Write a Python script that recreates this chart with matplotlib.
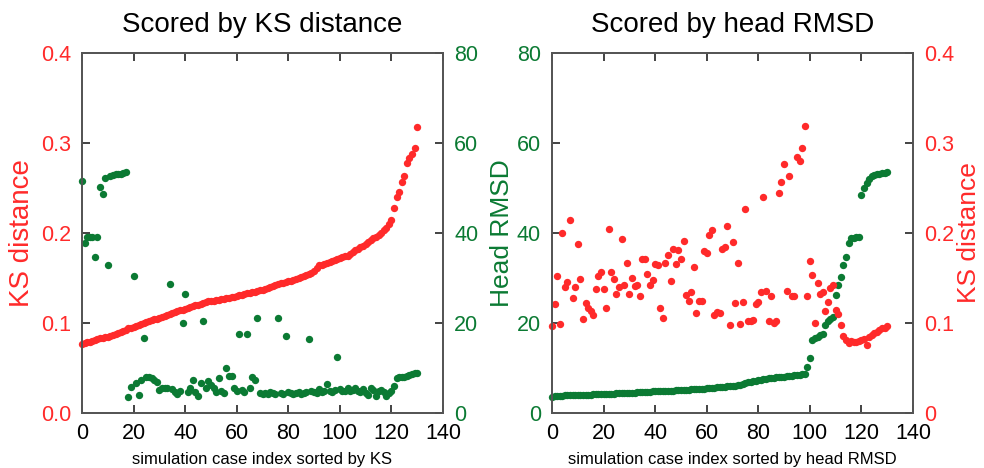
import matplotlib
matplotlib.use("Agg")
import matplotlib.pyplot as plt
import numpy as np

plt.rcParams['font.family'] = ['Liberation Sans', 'DejaVu Sans']

RED = '#ff2a2a'
GREEN = '#0b7a33'
SPINE = '#555555'
NARROW = ['Liberation Sans Narrow', 'Liberation Sans', 'DejaVu Sans']

# ---- data ----
# left panel: cases sorted by KS distance
ks_sorted_by_ks = [
    0.077, 0.078, 0.079, 0.079, 0.080, 0.081, 0.082, 0.083, 0.083, 0.084,
    0.085, 0.086, 0.087, 0.088, 0.089, 0.090, 0.091, 0.092, 0.094, 0.095,
    0.096, 0.097, 0.098, 0.099, 0.100, 0.101, 0.102, 0.103, 0.104, 0.105,
    0.106, 0.107, 0.108, 0.109, 0.110, 0.111, 0.112, 0.113, 0.114, 0.115,
    0.116, 0.117, 0.118, 0.119, 0.120, 0.120, 0.121, 0.122, 0.123, 0.124,
    0.124, 0.125, 0.126, 0.126, 0.127, 0.127, 0.128, 0.128, 0.129, 0.129,
    0.130, 0.131, 0.131, 0.132, 0.133, 0.133, 0.134, 0.135, 0.136, 0.137,
    0.137, 0.138, 0.139, 0.140, 0.141, 0.142, 0.143, 0.144, 0.145, 0.146,
    0.147, 0.147, 0.148, 0.149, 0.150, 0.151, 0.152, 0.153, 0.154, 0.156,
    0.158, 0.161, 0.164, 0.165, 0.166, 0.167, 0.168, 0.169, 0.170, 0.171,
    0.172, 0.173, 0.174, 0.175, 0.177, 0.179, 0.181, 0.182, 0.184, 0.186,
    0.188, 0.190, 0.192, 0.194, 0.196, 0.198, 0.200, 0.203, 0.206, 0.210,
    0.214, 0.228, 0.240, 0.246, 0.257, 0.263, 0.278, 0.283, 0.288, 0.294,
    0.318,
]
rmsd_sorted_by_ks = [
    51.5, 37.8, 39.0, 39.2, 39.2, 34.7, 39.1, 50.2, 48.7, 52.2,
    33.0, 52.6, 52.8, 53.0, 53.1, 53.2, 53.4, 53.5, 3.6, 5.8,
    30.4, 6.6, 3.9, 7.3, 16.7, 7.9, 8.1, 7.7, 7.3, 7.0,
    5.1, 5.5, 5.5, 5.5, 28.7, 5.4, 4.7, 4.3, 5.0, 20.0,
    26.4, 4.7, 5.5, 7.3, 4.7, 3.8, 6.6, 20.4, 5.6, 7.1,
    6.2, 5.5, 4.7, 7.7, 5.0, 4.4, 10.1, 8.3, 8.3, 5.5,
    4.9, 17.6, 5.2, 4.6, 17.6, 5.5, 7.9, 7.3, 21.1, 4.4,
    4.2, 4.5, 4.3, 4.6, 4.4, 4.2, 21.1, 4.5, 4.3, 17.1,
    4.6, 4.4, 4.2, 4.5, 4.7, 4.3, 4.4, 4.6, 16.4, 5.0,
    4.7, 4.5, 5.4, 4.6, 4.9, 6.4, 5.0, 4.6, 5.2, 12.4,
    5.3, 4.8, 5.0, 5.5, 4.9, 5.2, 5.6, 5.0, 4.7, 5.3,
    4.4, 3.9, 5.5, 5.1, 3.8, 4.8, 5.2, 4.6, 3.8, 4.4,
    5.0, 6.0, 7.7, 7.9, 8.0, 8.1, 8.3, 8.5, 8.6, 8.8,
    8.9,
]

# right panel: cases sorted by head RMSD
rmsd_sorted_by_rmsd = [
    3.6, 3.7, 3.7, 3.8, 3.8, 3.9, 3.9, 3.9, 4.0, 4.0,
    4.0, 4.0, 4.1, 4.1, 4.1, 4.1, 4.2, 4.2, 4.2, 4.2,
    4.2, 4.3, 4.3, 4.3, 4.3, 4.4, 4.4, 4.4, 4.4, 4.5,
    4.5, 4.5, 4.5, 4.6, 4.6, 4.6, 4.7, 4.7, 4.7, 4.8,
    4.8, 4.8, 4.9, 4.9, 4.9, 5.0, 5.0, 5.0, 5.1, 5.1,
    5.1, 5.2, 5.2, 5.2, 5.3, 5.3, 5.3, 5.4, 5.4, 5.4,
    5.5, 5.5, 5.6, 5.6, 5.7, 5.7, 5.8, 5.8, 5.9, 6.0,
    6.0, 6.1, 6.2, 6.3, 6.5, 6.7, 6.9, 7.0, 7.1, 7.2,
    7.3, 7.4, 7.5, 7.6, 7.7, 7.8, 7.8, 7.9, 8.0, 8.1,
    8.1, 8.2, 8.3, 8.3, 8.4, 8.5, 8.5, 8.6, 8.7, 10.2,
    12.2, 16.2, 16.7, 17.0, 17.3, 17.6, 19.6, 20.4, 20.9, 21.3,
    26.2, 28.4, 30.3, 32.9, 34.6, 37.7, 38.8, 38.9, 39.0, 39.0,
    48.4, 49.9, 51.2, 52.1, 52.6, 52.9, 53.1, 53.2, 53.3, 53.4,
    53.5,
]
ks_sorted_by_rmsd = [
    0.097, 0.121, 0.152, 0.099, 0.200, 0.140, 0.146, 0.214, 0.128, 0.140,
    0.188, 0.149, 0.104, 0.122, 0.117, 0.113, 0.109, 0.138, 0.152, 0.157,
    0.138, 0.117, 0.205, 0.157, 0.149, 0.132, 0.140, 0.193, 0.142, 0.167,
    0.132, 0.150, 0.141, 0.142, 0.130, 0.171, 0.171, 0.155, 0.142, 0.148,
    0.166, 0.165, 0.117, 0.106, 0.167, 0.176, 0.147, 0.182, 0.166, 0.181,
    0.171, 0.191, 0.131, 0.124, 0.135, 0.162, 0.111, 0.125, 0.125, 0.180,
    0.178, 0.198, 0.203, 0.109, 0.112, 0.111, 0.182, 0.184, 0.208, 0.098,
    0.190, 0.122, 0.167, 0.099, 0.123, 0.227, 0.102, 0.102, 0.103, 0.121,
    0.123, 0.134, 0.240, 0.136, 0.102, 0.130, 0.100, 0.102, 0.244, 0.257,
    0.277, 0.136, 0.263, 0.130, 0.130, 0.285, 0.280, 0.294, 0.319, 0.130,
    0.169, 0.153, 0.100, 0.144, 0.132, 0.135, 0.113, 0.123, 0.139, 0.142,
    0.114, 0.110, 0.098, 0.086, 0.081, 0.078, 0.080, 0.079, 0.079, 0.080,
    0.081, 0.082, 0.076, 0.085, 0.087, 0.089, 0.090, 0.092, 0.094, 0.095,
    0.097,
]

x_ticks = [0, 20, 40, 60, 80, 100, 120, 140]
ks_ticks = [0.0, 0.1, 0.2, 0.3, 0.4]
ks_labels_left = ['0.0', '0.1', '0.2', '0.3', '0.4']
ks_labels_right = ['0', '0.1', '0.2', '0.3', '0.4']
rmsd_ticks = [0, 20, 40, 60, 80]

TICK_FS = 15.5
LABEL_FS = 19
TITLE_FS = 20
XLABEL_FS = 12
MS = 28


def style_axes(ax):
    for sp in ax.spines.values():
        sp.set_color(SPINE)
        sp.set_linewidth(1.3)
    ax.tick_params(direction='in', length=6, width=1.2, color='#222222')


def narrow_ticks(ax):
    for lab in ax.get_xticklabels() + ax.get_yticklabels():
        lab.set_family(NARROW)


def setup_panel(ax, ax_twin, title, xlabel):
    ax.set_xlim(0, 140)
    ax.set_xticks(x_ticks)
    ax.tick_params(axis='x', top=True, labelsize=TICK_FS, pad=7)
    ax.set_xlabel(xlabel, fontsize=XLABEL_FS, labelpad=6)
    ax.set_title(title, fontsize=TITLE_FS, pad=15)
    style_axes(ax)
    style_axes(ax_twin)
    ax_twin.tick_params(axis='x', top=True)


fig = plt.figure(figsize=(9.84, 4.68), dpi=100)

# ---- left panel ----
ax1 = fig.add_axes([82 / 984, 55 / 468, 361 / 984, 360 / 468])
ax2 = ax1.twinx()
idx_l = np.arange(len(ks_sorted_by_ks))
ax1.scatter(idx_l, ks_sorted_by_ks, s=MS, color=RED, linewidths=0, clip_on=False)
ax2.scatter(idx_l, rmsd_sorted_by_ks, s=MS, color=GREEN, linewidths=0, clip_on=False)
setup_panel(ax1, ax2, 'Scored by KS distance',
            'simulation case index sorted by KS')
ax1.set_ylim(0, 0.4)
ax1.set_yticks(ks_ticks)
ax1.set_yticklabels(ks_labels_left)
ax1.tick_params(axis='y', labelcolor=RED, labelsize=TICK_FS, pad=8)
ax1.set_ylabel('KS distance', color=RED, fontsize=LABEL_FS + 1, labelpad=4)
ax2.set_ylim(0, 80)
ax2.set_yticks(rmsd_ticks)
ax2.tick_params(axis='y', labelcolor=GREEN, labelsize=TICK_FS, pad=8)

# ---- right panel ----
ax3 = fig.add_axes([552 / 984, 55 / 468, 361 / 984, 360 / 468])
ax4 = ax3.twinx()
idx_r = np.arange(len(rmsd_sorted_by_rmsd))
ax3.scatter(idx_r, rmsd_sorted_by_rmsd, s=MS, color=GREEN, linewidths=0, clip_on=False)
ax4.scatter(idx_r, ks_sorted_by_rmsd, s=MS, color=RED, linewidths=0, clip_on=False)
setup_panel(ax3, ax4, 'Scored by head RMSD',
            'simulation case index sorted by head RMSD')
ax3.set_ylim(0, 80)
ax3.set_yticks(rmsd_ticks)
ax3.tick_params(axis='y', labelcolor=GREEN, labelsize=TICK_FS, pad=8)
ax3.set_ylabel('Head RMSD', color=GREEN, fontsize=LABEL_FS, labelpad=2)
ax4.set_ylim(0, 0.4)
ax4.set_yticks(ks_ticks)
ax4.set_yticklabels(ks_labels_right)
ax4.tick_params(axis='y', labelcolor=RED, labelsize=TICK_FS, pad=8)
ax4.set_ylabel('KS distance', color=RED, fontsize=LABEL_FS, labelpad=2)

for a in (ax1, ax2, ax3, ax4):
    narrow_ticks(a)

fig.savefig('out.png', dpi=100)
